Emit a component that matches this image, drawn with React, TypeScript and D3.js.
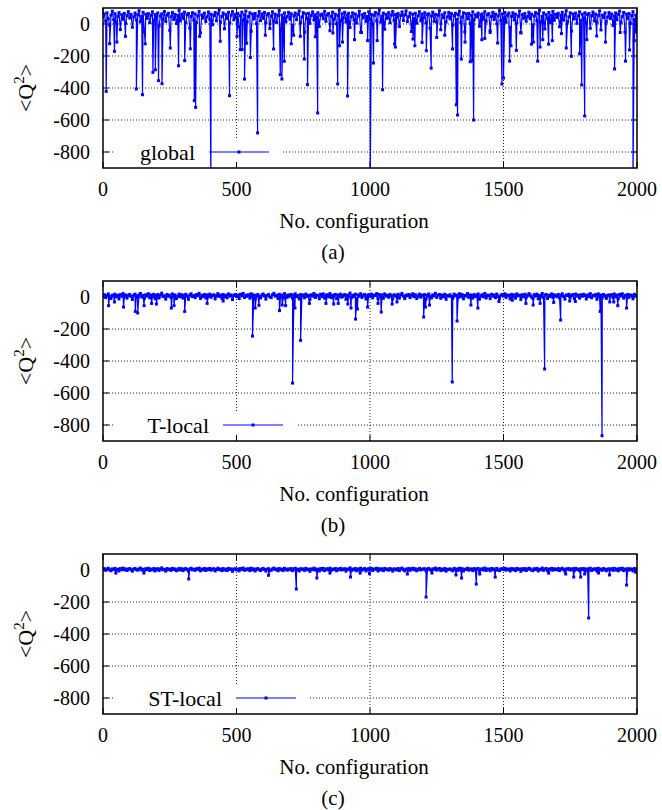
import React from 'react';
import * as d3 from 'd3';

const X_TICKS = [0, 500, 1000, 1500, 2000];
const Y_TICKS = [0, -200, -400, -600, -800];
const Y_DOMAIN = [-900, 100];
const X_DOMAIN = [0, 2000];
const STEP = 5; // baseline samples every 5 configurations

const LABELS = ['global', 'T-local', 'ST-local'];
const CAPTIONS = ['(a)', '(b)', '(c)'];

// Panel (a) baseline band (configs 0,5,10,...,2000)
const BASE_A = [
  45,62,18,70,33,-8,55,80,27,64,12,48,71,-35,58,30,66,5,52,77,
  38,60,-20,44,68,25,57,83,14,49,73,-48,61,36,65,9,54,76,22,59,
  41,69,-12,50,63,31,78,16,56,67,-40,46,72,28,60,3,53,85,19,62,
  35,74,10,58,66,-25,47,70,24,63,8,51,79,-55,57,37,68,15,45,75,
  29,61,-5,53,71,20,64,88,11,48,69,-30,59,34,73,6,55,77,26,60,
  40,67,-18,52,74,23,58,81,13,47,70,-45,62,32,66,2,50,78,21,63,
  36,72,7,57,65,-28,49,76,18,61,10,54,84,-38,56,39,69,14,46,73,
  30,64,-10,51,68,27,60,82,9,44,71,-50,63,35,67,4,53,75,25,58,
  42,70,-15,55,62,33,79,17,57,66,-42,48,74,29,61,1,52,86,20,64,
  37,73,12,56,67,-22,46,69,26,62,6,50,80,-52,58,38,65,16,47,76,
  31,60,-3,54,72,19,63,87,12,49,68,-33,60,36,71,8,56,78,24,59,
  43,66,-16,53,75,22,57,82,15,46,69,-47,61,34,67,5,51,77,20,62,
  38,71,9,58,64,-26,50,74,17,60,11,55,83,-36,57,40,70,13,45,72,
  32,65,-8,52,67,28,59,80,10,43,70,-49,64,33,66,3,54,76,27,57,
  44,68,-14,56,63,30,77,18,58,65,-41,47,73,28,62,2,51,84,21,63,
  39,72,11,55,68,-20,48,70,25,61,7,49,81,-53,59,36,66,17,46,74,
  33,62,-6,50,71,21,64,86,13,47,69,-31,58,37,72,9,55,79,23,60,
  41,67,-17,54,73,24,56,83,14,45,70,-44,63,31,68,4,52,76,22,61,
  37,70,8,59,66,-27,51,75,19,62,12,53,82,-37,55,41,69,15,44,71,
  34,63,-9,50,69,26,60,81,11,46,72,-51,62,35,65,6,53,77,28,56,
  48,
];

// Panel (a) isolated dips [configuration, value]
const SPIKES_A = [
  [12,-421],[25,-123],[43,-171],[52,-113],[84,-77],[125,-406],[148,-442],[158,-124],
  [187,-302],[196,-286],[208,-354],[221,-373],[252,-150],[283,-261],[306,-229],[327,-155],
  [342,-479],[347,-521],[362,-77],[404,-1000],[439,-108],[474,-448],[502,-77],[514,-160],
  [521,-160],[530,-344],[538,-120],[552,-209],[579,-681],[608,-70],[639,-156],[664,-317],
  [670,-344],[679,-233],[705,-124],[714,-70],[739,-77],[754,-219],[766,-379],[795,-80],
  [804,-556],[861,-56],[879,-375],[886,-136],[897,-113],[916,-450],[942,-98],[968,-53],
  [991,-104],[1001,-1000],[1013,-244],[1027,-104],[1047,-411],[1092,-125],[1095,-144],
  [1161,-94],[1168,-136],[1195,-115],[1211,-167],[1229,-276],[1250,-84],[1280,-70],
  [1309,-156],[1323,-505],[1328,-569],[1342,-219],[1356,-113],[1375,-236],[1382,-230],
  [1388,-600],[1419,-98],[1430,-90],[1450,-53],[1478,-119],[1494,-375],[1500,-338],
  [1523,-232],[1528,-136],[1548,-165],[1565,-56],[1605,-126],[1612,-113],[1628,-232],
  [1637,-144],[1647,-98],[1669,-126],[1683,-104],[1717,-60],[1735,-150],[1754,-202],
  [1785,-186],[1793,-381],[1804,-575],[1812,-98],[1849,-75],[1882,-113],[1916,-281],
  [1937,-53],[1957,-232],[1972,-162],[1985,-1000],[1990,-104],[1996,-50],
];

// Panel (b) baseline band
const BASE_B = [
  6,14,-4,10,19,3,-9,12,8,17,1,11,-12,15,5,21,2,13,-7,9,
  16,4,-15,11,18,7,-2,13,22,0,10,-8,14,6,20,-5,12,3,17,-11,
  9,15,-6,12,24,2,8,-13,16,5,11,-3,19,7,13,-10,4,18,1,14,
  -7,10,17,6,-14,12,20,3,9,-4,15,8,23,-9,11,2,16,-6,13,5,
  18,-2,10,14,-12,7,21,4,12,-8,16,1,11,-5,19,6,13,-16,9,15,
  3,12,-10,17,8,22,-3,11,5,14,-7,20,2,13,-11,9,16,4,-6,12,
  19,7,-13,10,15,1,-4,14,23,6,11,-9,17,3,12,-6,21,8,-2,13,
  5,16,-8,11,20,2,9,-12,15,7,13,-5,18,4,10,-15,14,6,22,-3,
  12,8,-11,17,3,19,-7,10,14,1,21,-4,11,6,16,-10,13,5,18,-1,
  9,15,-14,12,7,24,-6,11,2,17,-9,13,5,20,-3,10,16,-12,8,14,
  4,18,-5,12,9,21,-11,15,3,13,-8,19,6,11,-2,16,7,-13,14,10,
  1,17,-7,13,22,5,-10,12,8,16,-4,11,20,2,14,-9,6,18,-1,12,
  10,15,-12,9,19,4,-6,13,7,23,-3,11,16,-8,12,1,17,-14,10,6,
  14,3,-9,18,8,12,-5,20,2,15,-11,10,6,21,-2,13,9,-7,16,4,
  11,19,-13,7,14,1,22,-6,12,9,-10,17,5,13,-4,18,3,-8,11,15,
  6,20,-3,12,10,-12,16,4,13,-7,19,8,11,-15,14,2,17,-5,9,21,
  13,1,-8,15,7,18,-11,10,5,22,-4,12,16,-9,11,3,19,-2,14,8,
  2,16,-6,11,20,4,-13,13,9,17,-1,10,15,-10,18,6,12,-7,14,5,
  17,9,-12,13,3,21,-5,11,7,15,-14,19,2,12,-3,16,8,-9,10,13,
  7,14,-4,18,1,12,-10,16,6,20,-7,11,4,15,-2,13,9,-11,17,10,
  6,
];

const SPIKES_B = [
  [21,-54],[43,-31],[77,-63],[121,-90],[130,-100],[154,-54],[182,-40],[200,-44],
  [256,-69],[266,-54],[306,-90],[390,-40],[450,-25],[560,-244],[570,-69],[584,-52],
  [661,-85],[671,-50],[684,-54],[710,-538],[719,-69],[740,-271],[773,-40],[835,-40],
  [864,-44],[881,-40],[917,-44],[929,-69],[946,-138],[953,-75],[991,-63],[1030,-40],
  [1042,-94],[1083,-44],[1101,-31],[1201,-125],[1208,-63],[1223,-50],[1308,-531],
  [1326,-150],[1378,-50],[1404,-69],[1483,-28],[1533,-20],[1584,-40],[1611,-50],
  [1637,-40],[1654,-450],[1688,-34],[1714,-144],[1748,-25],[1769,-28],[1862,-90],
  [1869,-867],[1898,-31],[1913,-31],[1928,-54],[1961,-69],
];

// Panel (c) baseline band
const BASE_C = [
  4,8,-2,6,11,1,-5,7,3,10,0,5,-6,9,2,12,1,7,-3,5,
  9,2,-7,6,10,3,-1,7,12,0,5,-4,8,3,11,-3,6,1,9,-6,
  5,8,-3,6,13,1,4,-7,9,2,6,-2,10,3,7,-5,2,10,0,8,
  -4,5,9,3,-7,6,11,1,5,-2,8,4,12,-5,6,1,9,-3,7,2,
  10,-1,5,8,-6,3,11,2,6,-4,9,0,6,-3,10,3,7,-8,5,8,
  1,6,-5,9,4,12,-2,6,2,8,-4,11,1,7,-6,5,9,2,-3,6,
  10,3,-7,5,8,0,-2,7,12,3,6,-5,9,1,6,-3,11,4,-1,7,
  2,9,-4,6,11,1,5,-6,8,3,7,-2,10,2,5,-8,7,3,12,-1,
  6,4,-6,9,1,10,-4,5,8,0,11,-2,6,3,9,-5,7,2,10,0,
  5,8,-7,6,3,13,-3,6,1,9,-5,7,2,11,-1,5,9,-6,4,8,
  2,10,-3,6,5,11,-6,8,1,7,-4,10,3,6,-1,9,4,-7,7,5,
  0,9,-4,7,12,2,-5,6,4,9,-2,6,11,1,8,-5,3,10,0,6,
  5,8,-6,5,10,2,-3,7,4,12,-1,6,9,-4,6,0,9,-7,5,3,
  7,1,-5,10,4,6,-2,11,1,8,-6,5,3,11,-1,7,5,-4,9,2,
  6,10,-7,4,8,0,12,-3,6,5,-5,9,2,7,-2,10,1,-4,6,8,
  3,11,-1,6,5,-6,9,2,7,-4,10,4,6,-8,8,1,9,-3,5,11,
  7,0,-4,8,3,10,-6,5,2,12,-2,6,9,-5,6,1,10,-1,8,4,
  1,9,-3,6,11,2,-7,7,5,9,0,5,8,-5,10,3,6,-4,8,2,
  9,5,-6,7,1,11,-3,6,4,8,-7,10,1,6,-2,9,4,-5,5,7,
  3,8,-2,10,0,6,-5,9,3,11,-4,6,2,8,-1,7,5,-6,9,5,
  3,
];

const SPIKES_C = [
  [48,-19],[153,-19],[321,-56],[620,-33],[724,-119],[801,-50],[850,-19],[927,-44],
  [963,-19],[998,-23],[1140,-25],[1210,-169],[1232,-19],[1322,-31],[1343,-50],[1398,-88],
  [1411,-25],[1469,-44],[1669,-19],[1733,-25],[1763,-44],[1789,-44],[1804,-25],[1819,-300],
  [1856,-19],[1897,-31],[1961,-94],[1995,-14],
];

const BASES = [BASE_A, BASE_B, BASE_C];
const SPIKES = [SPIKES_A, SPIKES_B, SPIKES_C];

function buildSeries(base: number[], spikes: number[][]): [number, number][] {
  const pts: [number, number][] = base.map((v, i) => [i * STEP, v]);
  spikes.forEach((s) => pts.push([s[0], s[1]]));
  pts.sort((a, b) => a[0] - b[0]);
  return pts;
}

const W = 662;
const H = 810;
const LEFT = 103;
const RIGHT = 637;
const PH = 160;
const TOPS = [8, 281, 554];
const KEY_LINE_START = [209, 223, 236];
const FONT = 'Liberation Serif';
const BLUE = '#0000ff';
const TXT = { fontFamily: FONT } as React.CSSProperties;

function Panel({ idx }: { idx: number }) {
  const top = TOPS[idx];
  const bottom = top + PH;
  const x = d3.scaleLinear().domain(X_DOMAIN).range([LEFT, RIGHT]);
  const y = d3.scaleLinear().domain(Y_DOMAIN).range([bottom, top]);
  const pts = buildSeries(BASES[idx], SPIKES[idx]);
  const line = d3.line<[number, number]>().x((d) => x(d[0])).y((d) => y(d[1]));
  const clipId = `clip-${idx}`;
  const keyY = y(-800);
  const ls = KEY_LINE_START[idx];
  const le = ls + 60;
  const tick = 6;
  return (
    <g>
      <defs>
        <clipPath id={clipId}>
          <rect x={LEFT} y={top} width={RIGHT - LEFT} height={PH} />
        </clipPath>
      </defs>
      {Y_TICKS.map((t) => (
        <line key={'gy' + t} x1={LEFT} x2={RIGHT} y1={y(t)} y2={y(t)} stroke="#222" strokeWidth={1} strokeDasharray="1,2" />
      ))}
      {X_TICKS.filter((t) => t > 0 && t < 2000).map((t) => (
        <line key={'gx' + t} x1={x(t)} x2={x(t)} y1={top} y2={bottom} stroke="#222" strokeWidth={1} strokeDasharray="1,2" />
      ))}
      <rect x={115} y={keyY - 12} width={le + 14 - 115} height={bottom - (keyY - 12)} fill="#fff" />
      {Y_TICKS.map((t) => (
        <g key={'ty' + t}>
          <line x1={LEFT} x2={LEFT + tick} y1={y(t)} y2={y(t)} stroke="#000" />
          <line x1={RIGHT} x2={RIGHT - tick} y1={y(t)} y2={y(t)} stroke="#000" />
          <text x={LEFT - 13} y={y(t)} dy="0.35em" textAnchor="end" style={TXT} fontSize={20}>{t}</text>
        </g>
      ))}
      {X_TICKS.map((t) => (
        <g key={'tx' + t}>
          <line x1={x(t)} x2={x(t)} y1={bottom} y2={bottom - tick} stroke="#000" />
          <line x1={x(t)} x2={x(t)} y1={top} y2={top + tick} stroke="#000" />
          <text x={x(t)} y={bottom + 27.5} textAnchor="middle" style={TXT} fontSize={20}>{t}</text>
        </g>
      ))}
      <g clipPath={`url(#${clipId})`}>
        <path d={line(pts) || ''} fill="none" stroke={BLUE} strokeWidth={1.2} />
        {pts.map((p, i) => (
          <rect key={i} x={x(p[0]) - 1.5} y={y(p[1]) - 1.5} width={3} height={3} fill={BLUE} />
        ))}
      </g>
      <text x={ls - 14} y={keyY} dy="0.35em" textAnchor="end" style={TXT} fontSize={22}>{LABELS[idx]}</text>
      <line x1={ls} x2={le} y1={keyY} y2={keyY} stroke={BLUE} strokeWidth={1} />
      <rect x={(ls + le) / 2 - 1.5} y={keyY - 1.5} width={3} height={3} fill={BLUE} />
      <rect x={LEFT} y={top} width={RIGHT - LEFT} height={PH} fill="none" stroke="#000" strokeWidth={1.5} />
      <text transform={`translate(33,${(top + bottom) / 2}) rotate(-90)`} textAnchor="middle" style={TXT} fontSize={22}>
        {'<Q'}
        <tspan dy={-9} fontSize={15}>2</tspan>
        <tspan dy={9}>{'>'}</tspan>
      </text>
      <text x={354} y={bottom + 60} textAnchor="middle" style={TXT} fontSize={21}>No. configuration</text>
      <text x={333} y={bottom + 91} textAnchor="middle" style={TXT} fontSize={21}>{CAPTIONS[idx]}</text>
    </g>
  );
}

export default function App() {
  return (
    <svg width={W} height={H} style={{ position: 'absolute', left: 0, top: 0, background: '#fff' }}>
      <rect x={0} y={0} width={W} height={H} fill="#fff" />
      {[0, 1, 2].map((i) => (
        <Panel key={i} idx={i} />
      ))}
    </svg>
  );
}
